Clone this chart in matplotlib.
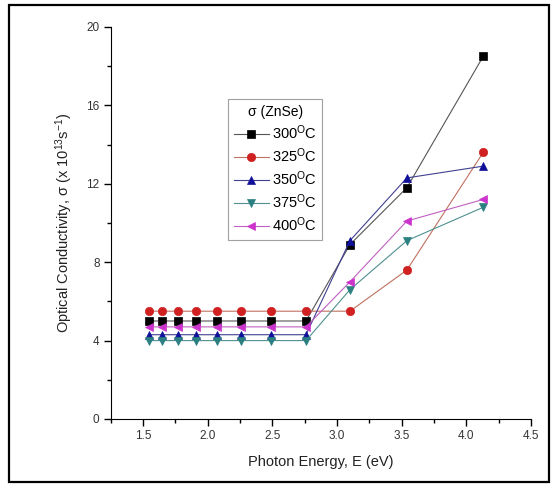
import numpy as np
import matplotlib
matplotlib.use('Agg')
import matplotlib.pyplot as plt
from matplotlib.patches import Rectangle
from matplotlib.ticker import MultipleLocator

plt.rcParams['font.family'] = ['Liberation Sans', 'DejaVu Sans']
plt.rcParams['mathtext.fontset'] = 'custom'
plt.rcParams['mathtext.rm'] = 'Liberation Sans'
plt.rcParams['mathtext.it'] = 'Liberation Sans:italic'

# photon energy (eV)
energy = [1.55, 1.65, 1.77, 1.91, 2.07, 2.26, 2.49, 2.76, 3.10, 3.54, 4.13]

# optical conductivity (x 10^13 s^-1)
sig_300 = [5.0, 5.0, 5.0, 5.0, 5.0, 5.0, 5.0, 5.0, 8.9, 11.8, 18.5]
sig_325 = [5.5, 5.5, 5.5, 5.5, 5.5, 5.5, 5.5, 5.5, 5.5, 7.6, 13.6]
sig_350 = [4.3, 4.3, 4.3, 4.3, 4.3, 4.3, 4.3, 4.3, 9.1, 12.3, 12.9]
sig_375 = [4.0, 4.0, 4.0, 4.0, 4.0, 4.0, 4.0, 4.0, 6.6, 9.1, 10.8]
sig_400 = [4.7, 4.7, 4.7, 4.7, 4.7, 4.7, 4.7, 4.7, 7.0, 10.1, 11.2]

labels = ['300$^{\\mathrm{O}}$C', '325$^{\\mathrm{O}}$C', '350$^{\\mathrm{O}}$C',
          '375$^{\\mathrm{O}}$C', '400$^{\\mathrm{O}}$C']
colors = ['black', '#d02020', '#10109a', '#2a7f80', '#cc33cc']
line_colors = ['#555555', '#c07060', '#404090', '#509090', '#c060c0']
markers = ['s', 'o', '^', 'v', '<']

fig = plt.figure(figsize=(5.59, 4.88), dpi=100)
ax = fig.add_axes([0.198, 0.1414, 0.752, 0.8033])

series = [sig_300, sig_325, sig_350, sig_375, sig_400]
for ys, lab, c, lc, m in zip(series, labels, colors, line_colors, markers):
    ax.plot(energy, ys, color=lc, lw=0.8, marker=m, markersize=6,
            markerfacecolor=c, markeredgecolor=c, markeredgewidth=0.5, label=lab)

ax.set_xlim(1.25, 4.5)
ax.set_ylim(0, 20)
ax.xaxis.set_major_locator(MultipleLocator(0.5))
ax.xaxis.set_minor_locator(MultipleLocator(0.25))
ax.yaxis.set_major_locator(MultipleLocator(4))
ax.yaxis.set_minor_locator(MultipleLocator(2))
ax.tick_params(which='major', direction='out', length=5, width=1, labelsize=8.5,
               labelcolor='#333333', pad=3)
ax.tick_params(which='minor', direction='out', length=3, width=1)
ax.spines['top'].set_visible(False)
ax.spines['right'].set_visible(False)

ax.set_xlabel('Photon Energy, E (eV)', fontsize=10.5, color='#222222', labelpad=9)
ax.set_ylabel('Optical Conductivity, σ (x 10$^{13}$s$^{-1}$)', fontsize=10.5,
              color='#222222', labelpad=8)

leg = ax.legend(title='σ (ZnSe)', loc='upper left', bbox_to_anchor=(0.279, 0.816),
                fontsize=10.5, title_fontsize=10, frameon=True, fancybox=False,
                edgecolor='#888888', handlelength=2.4, borderpad=0.4,
                labelspacing=0.3, handletextpad=0.2, borderaxespad=0)
leg.get_frame().set_linewidth(0.8)

# frame round the whole picture
fig.patches.append(Rectangle((9 / 559, 6 / 488), 540 / 559, 477 / 488,
                             transform=fig.transFigure, fill=False,
                             edgecolor='black', lw=1.6))

fig.savefig('out.png', dpi=100)
